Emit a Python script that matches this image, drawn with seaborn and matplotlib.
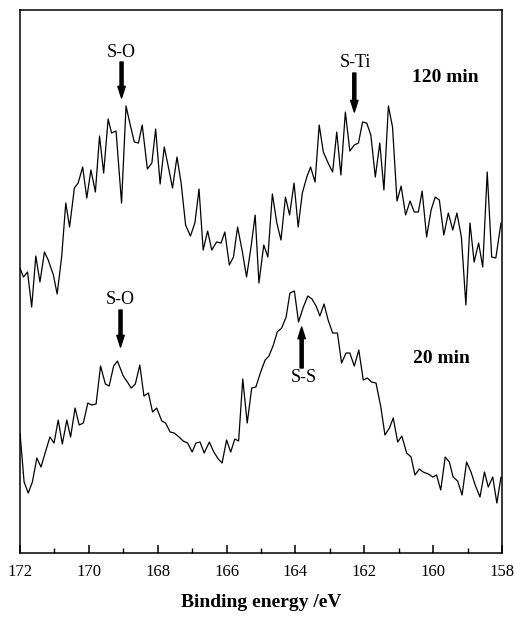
import matplotlib
matplotlib.use("Agg")
import matplotlib.pyplot as plt
import seaborn as sns
import pandas as pd

# ---- data (intensity in arbitrary units) ----
energy_120 = [172.00, 171.90, 171.78, 171.66, 171.54, 171.42, 171.29, 171.18, 171.03, 170.92,
              170.79, 170.67, 170.56, 170.42, 170.31, 170.18, 170.06, 169.94, 169.81, 169.69,
              169.57, 169.44, 169.34, 169.21, 169.05, 168.92, 168.81, 168.68, 168.56, 168.45,
              168.30, 168.17, 168.06, 167.93, 167.81, 167.69, 167.57, 167.44, 167.32, 167.19,
              167.05, 166.92, 166.80, 166.68, 166.55, 166.43, 166.29, 166.16, 166.05, 165.92,
              165.80, 165.68, 165.54, 165.42, 165.29, 165.17, 165.06, 164.92, 164.80, 164.67,
              164.54, 164.42, 164.29, 164.17, 164.04, 163.92, 163.80, 163.67, 163.56, 163.43,
              163.31, 163.19, 163.05, 162.92, 162.80, 162.68, 162.55, 162.42, 162.29, 162.17,
              162.05, 161.93, 161.81, 161.68, 161.55, 161.43, 161.30, 161.18, 161.05, 160.93,
              160.80, 160.67, 160.55, 160.43, 160.32, 160.19, 160.06, 159.94, 159.82, 159.69,
              159.56, 159.43, 159.31, 159.18, 159.05, 158.93, 158.81, 158.68, 158.56, 158.43,
              158.30, 158.18, 158.03]
counts_120 = [285, 276, 281, 246, 297, 271, 301, 293, 278, 259,
              296, 350, 326, 365, 370, 386, 355, 383, 361, 417,
              380, 434, 420, 422, 350, 447, 430, 411, 410, 428,
              384, 390, 424, 369, 406, 386, 365, 396, 370, 328,
              317, 330, 364, 303, 322, 303, 311, 310, 321, 288,
              296, 326, 301, 276, 306, 338, 270, 308, 296, 359,
              330, 313, 356, 338, 370, 326, 360, 376, 386, 371,
              428, 401, 390, 381, 421, 378, 441, 402, 408, 410,
              431, 430, 418, 376, 410, 363, 447, 426, 352, 367,
              338, 352, 341, 341, 362, 316, 343, 356, 353, 318,
              340, 323, 340, 316, 248, 330, 291, 310, 286, 381,
              296, 295, 330]

energy_20 = [172.00, 171.88, 171.76, 171.64, 171.51, 171.39, 171.27, 171.13, 171.01, 170.89,
             170.77, 170.64, 170.53, 170.40, 170.28, 170.16, 170.03, 169.92, 169.79, 169.66,
             169.52, 169.41, 169.28, 169.17, 169.00, 168.88, 168.77, 168.65, 168.52, 168.40,
             168.27, 168.15, 168.03, 167.88, 167.77, 167.64, 167.52, 167.38, 167.26, 167.13,
             167.00, 166.89, 166.77, 166.65, 166.50, 166.37, 166.24, 166.13, 166.00, 165.88,
             165.76, 165.65, 165.53, 165.40, 165.27, 165.15, 165.01, 164.88, 164.77, 164.64,
             164.53, 164.40, 164.27, 164.16, 164.03, 163.91, 163.77, 163.64, 163.52, 163.40,
             163.29, 163.17, 163.05, 162.92, 162.78, 162.66, 162.53, 162.42, 162.29, 162.16,
             162.03, 161.91, 161.79, 161.66, 161.52, 161.40, 161.27, 161.16, 161.03, 160.91,
             160.77, 160.64, 160.53, 160.40, 160.29, 160.14, 160.01, 159.90, 159.78, 159.65,
             159.53, 159.42, 159.29, 159.16, 159.03, 158.90, 158.78, 158.64, 158.51, 158.40,
             158.27, 158.15, 158.03]
counts_20 = [120, 71, 60, 71, 95, 86, 100, 116, 110, 133,
             109, 133, 116, 145, 128, 130, 150, 148, 149, 187,
             169, 167, 187, 192, 177, 171, 165, 169, 188, 157,
             160, 141, 145, 132, 130, 121, 120, 116, 112, 110,
             101, 110, 111, 100, 111, 101, 94, 90, 113, 101,
             114, 112, 174, 130, 165, 166, 181, 193, 197, 208,
             221, 225, 236, 260, 262, 231, 246, 257, 254, 247,
             237, 249, 233, 220, 220, 190, 200, 200, 187, 203,
             173, 175, 171, 170, 146, 118, 125, 135, 111, 117,
             100, 96, 78, 84, 81, 79, 76, 78, 63, 96,
             91, 76, 72, 58, 91, 81, 68, 56, 81, 66,
             76, 50, 76]

series_names = ["120 min", "20 min"]
major_ticks = [172, 170, 168, 166, 164, 162, 160, 158]
minor_ticks = [171, 169, 167, 165, 163, 161, 159]

# annotations: (text, text position, arrow tail, arrow tip)
peak_labels = [
    ("S-O", (169.05, 501), (169.05, 491), (169.05, 455)),
    ("S-Ti", (162.27, 491), (162.29, 480), (162.29, 441)),
    ("S-O", (169.08, 254), (169.08, 243), (169.08, 206)),
    ("S-S", (163.77, 176), (163.82, 185), (163.82, 226)),
]
time_labels = [("120 min", (159.66, 476)), ("20 min", (159.75, 195))]

# ---- plotting ----
sns.set_style("ticks")
plt.rcParams["font.family"] = ["Liberation Serif", "DejaVu Serif"]
plt.rcParams["text.color"] = "black"
plt.rcParams["axes.labelcolor"] = "black"
plt.rcParams["xtick.color"] = "black"

df = pd.concat([
    pd.DataFrame({"energy": energy_120, "counts": counts_120, "series": series_names[0]}),
    pd.DataFrame({"energy": energy_20, "counts": counts_20, "series": series_names[1]}),
])

fig = plt.figure(figsize=(5.15, 6.22), dpi=100)
ax = fig.add_axes([0.0388, 0.1109, 0.9360, 0.8730])

sns.lineplot(data=df, x="energy", y="counts", units="series", estimator=None,
             color="black", linewidth=0.9, ax=ax)

ax.set_xlim(172, 158)
ax.set_ylim(0, 543)
ax.set_xticks(major_ticks)
ax.set_xticks(minor_ticks, minor=True)
ax.set_xticklabels([str(t) for t in major_ticks])
ax.set_yticks([])
ax.set_ylabel("")
ax.set_xlabel("Binding energy /eV", fontsize=14, fontweight="bold", labelpad=10,
              color="black")
ax.tick_params(axis="x", which="major", direction="in", length=6, width=1.1,
               pad=8, labelsize=12, colors="black")
ax.tick_params(axis="x", which="minor", direction="in", length=3.5, width=1.0,
               colors="black")
for sp in ax.spines.values():
    sp.set_visible(True)
    sp.set_linewidth(1.1)
    sp.set_color("black")

arrow_style = "simple,head_width=0.38,head_length=0.6,tail_width=0.16"
for txt, tpos, tail, tip in peak_labels:
    ax.text(tpos[0], tpos[1], txt, ha="center", va="center", fontsize=13,
            color="black")
    ax.annotate("", xy=tip, xytext=tail,
                arrowprops=dict(arrowstyle=arrow_style, color="black",
                                shrinkA=0, shrinkB=0, mutation_scale=14))
for txt, tpos in time_labels:
    ax.text(tpos[0], tpos[1], txt, ha="center", va="center", fontsize=14,
            fontweight="bold", color="black")

fig.savefig("out.png", dpi=100)
